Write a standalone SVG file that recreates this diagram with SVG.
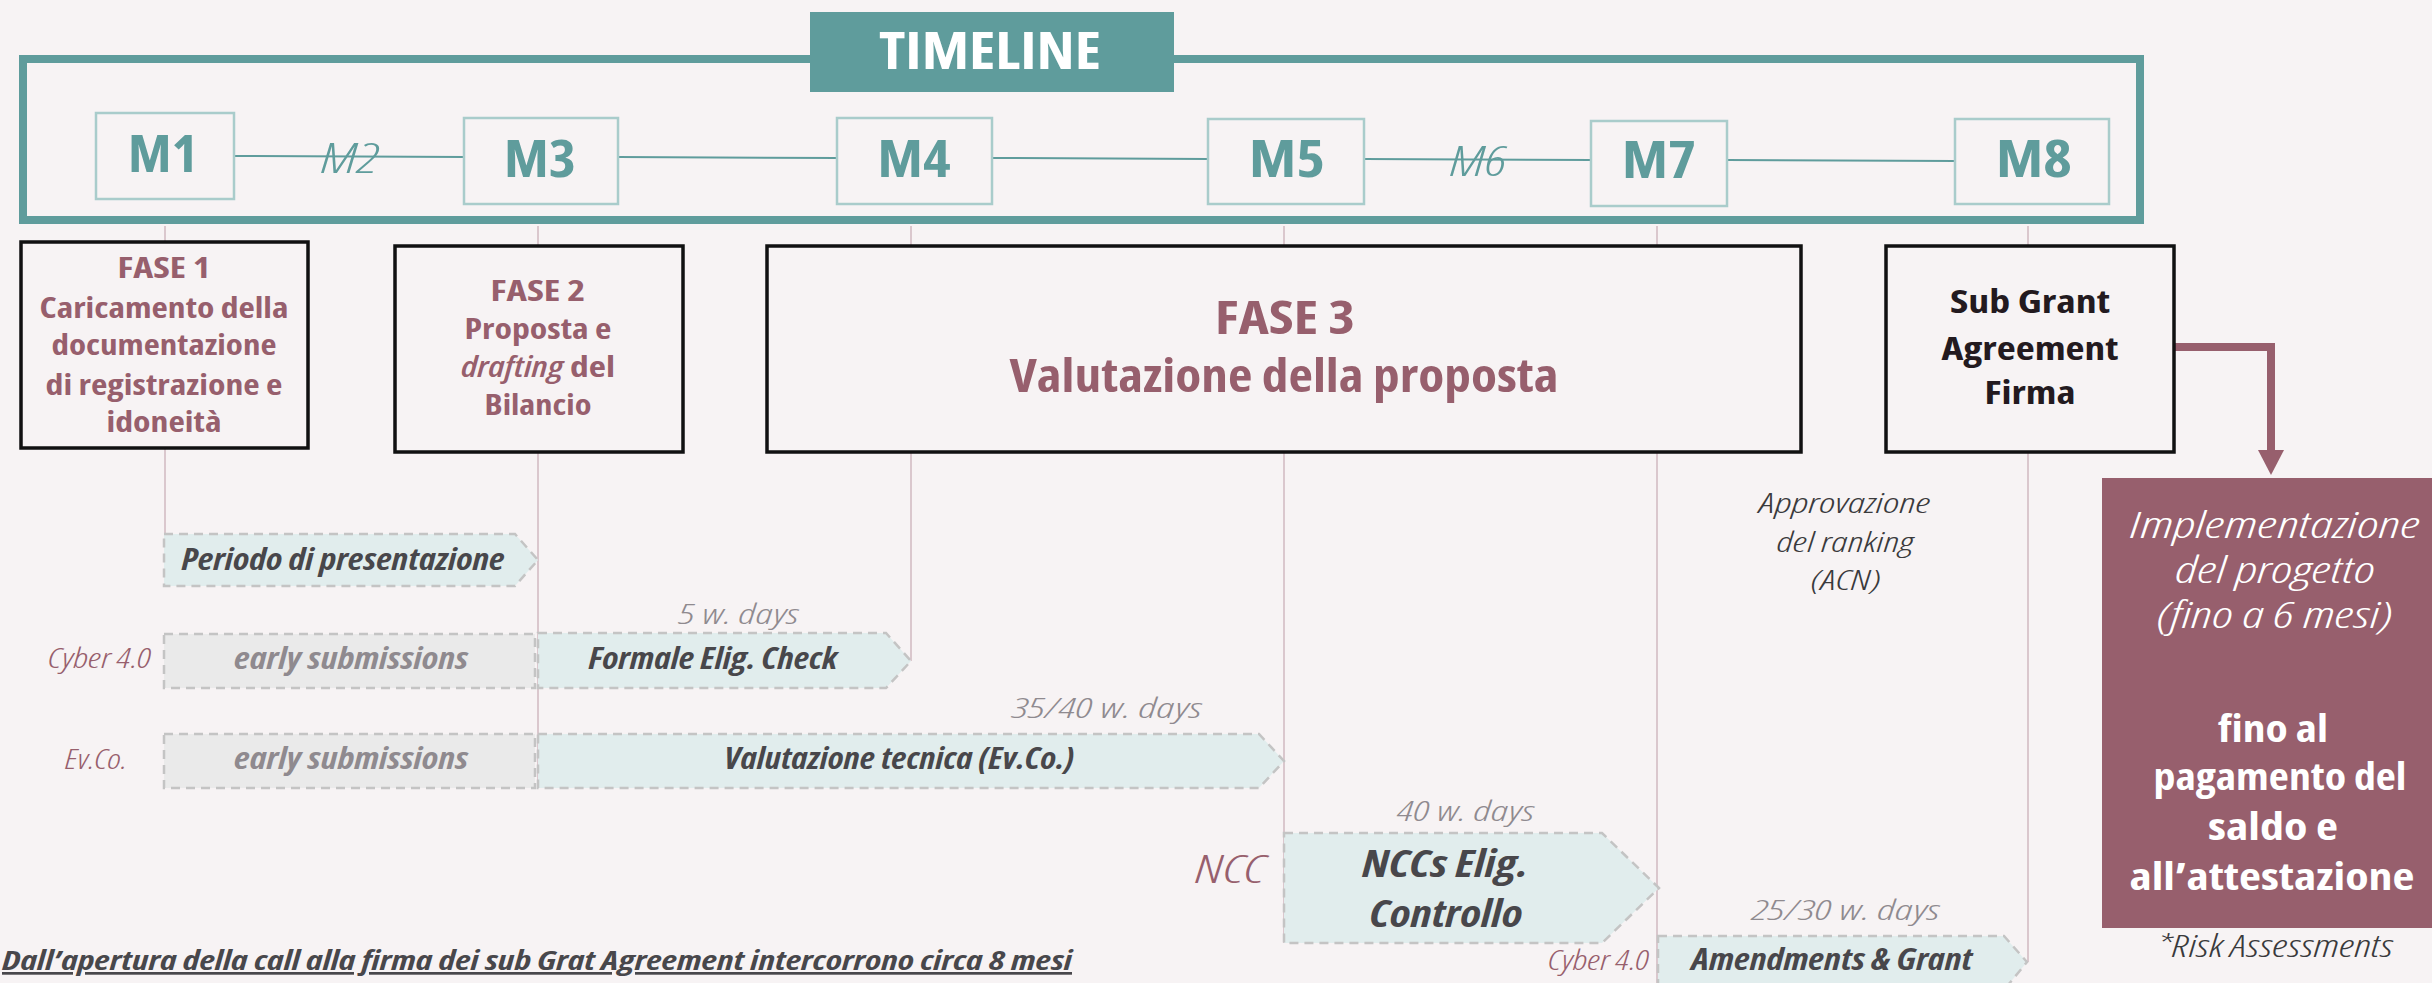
<svg xmlns="http://www.w3.org/2000/svg" width="2432" height="983" viewBox="0 0 2432 983">
<defs>
<style>
text{font-family:"Open Sans","Liberation Sans",sans-serif;font-stretch:condensed}
.c{text-anchor:middle}
.r{text-anchor:end}
.mbox{fill:none;stroke:#A9CCCB;stroke-width:2.5}
.mt{font-weight:700;font-size:52px;fill:#5F9C9C}
.mi{font-weight:300;font-style:italic;font-size:42px;fill:#5F9C9C}
.ml{stroke:#5F9C9C;stroke-width:2;fill:none}
.vl{stroke:#D0B8C0;stroke-width:1.5;fill:none}
.fase{fill:#F7F3F4;stroke:#111;stroke-width:3.5}
.ft{font-weight:700;font-size:29px;fill:#975F6D}
.ft3{font-weight:700;font-size:46px;fill:#975F6D}
.sg{font-weight:700;font-size:32px;fill:#231A1F}
.arr{fill:#E1EDED;stroke:#C4C4C4;stroke-width:2.5;stroke-dasharray:9 6}
.early{fill:#EAEAEA;stroke:#C4C4C4;stroke-width:2.5;stroke-dasharray:9 6}
.at{font-weight:700;font-style:italic;font-size:30px;fill:#48474B}
.atb{font-weight:700;font-style:italic;font-size:38px;fill:#48474B}
.et{font-weight:700;font-style:italic;font-size:30px;fill:#8F8A8F}
.lab{font-weight:300;font-style:italic;font-size:28px;fill:#975F6D}
.labb{font-weight:300;font-style:italic;font-size:39px;fill:#975F6D}
.days{font-weight:300;font-style:italic;font-size:28px;fill:#8F8A8F}
.note{font-weight:300;font-style:italic;font-size:28px;fill:#3A3A3C}
.risk{font-weight:300;font-style:italic;font-size:32px;fill:#3A3A3C}
.imp{font-weight:300;font-style:italic;font-size:36px;fill:#FFFFFF}
.impb{font-weight:700;font-size:38px;fill:#FFFFFF}
.foot{font-weight:700;font-style:italic;font-size:27px;fill:#48474B;text-decoration:underline}
.tl{font-weight:700;font-size:52px;fill:#FFFFFF}
</style>
</defs>
<rect width="2432" height="983" fill="#F7F3F4"/>

<g id="connectors">
<line class="vl" x1="165" y1="226" x2="165" y2="534"/>
<line class="vl" x1="538" y1="226" x2="538" y2="788"/>
<line class="vl" x1="911" y1="226" x2="911" y2="661"/>
<line class="vl" x1="1284" y1="226" x2="1284" y2="943"/>
<line class="vl" x1="1657" y1="226" x2="1657" y2="983"/>
<line class="vl" x1="2028" y1="226" x2="2028" y2="962"/>
<line class="ml" x1="234" y1="156" x2="464" y2="157"/>
<line class="ml" x1="618" y1="157" x2="837" y2="158"/>
<line class="ml" x1="992" y1="158" x2="1208" y2="159"/>
<line class="ml" x1="1364" y1="159" x2="1591" y2="160"/>
<line class="ml" x1="1727" y1="160" x2="1955" y2="161"/>
<path d="M2174,347 H2271 V452" fill="none" stroke="#975F6D" stroke-width="8"/>
<polygon points="2258,450 2284,450 2271,475" fill="#975F6D"/>
</g>

<g id="timeline">
<rect x="23" y="59" width="2117" height="161" fill="none" stroke="#5F9C9C" stroke-width="8"/>
<rect x="810" y="12" width="364" height="80" fill="#5F9C9C"/>
<text class="tl c" x="990" y="69" textLength="222" lengthAdjust="spacingAndGlyphs">TIMELINE</text>
</g>

<g id="m1"><rect class="mbox" x="96" y="113" width="138" height="86"/><text class="mt c" x="163" y="172" textLength="70" lengthAdjust="spacingAndGlyphs">M1</text></g>
<g id="m2"><text class="mi c" x="350" y="173" textLength="58" lengthAdjust="spacingAndGlyphs">M2</text></g>
<g id="m3"><rect class="mbox" x="464" y="118" width="154" height="86"/><text class="mt c" x="540" y="177" textLength="72" lengthAdjust="spacingAndGlyphs">M3</text></g>
<g id="m4"><rect class="mbox" x="837" y="118" width="155" height="86"/><text class="mt c" x="914" y="177" textLength="73" lengthAdjust="spacingAndGlyphs">M4</text></g>
<g id="m5"><rect class="mbox" x="1208" y="119" width="156" height="85"/><text class="mt c" x="1287" y="177" textLength="76" lengthAdjust="spacingAndGlyphs">M5</text></g>
<g id="m6"><text class="mi c" x="1478" y="176" textLength="56" lengthAdjust="spacingAndGlyphs">M6</text></g>
<g id="m7"><rect class="mbox" x="1591" y="121" width="136" height="85"/><text class="mt c" x="1659" y="178" textLength="74" lengthAdjust="spacingAndGlyphs">M7</text></g>
<g id="m8"><rect class="mbox" x="1955" y="119" width="154" height="85"/><text class="mt c" x="2034" y="177" textLength="76" lengthAdjust="spacingAndGlyphs">M8</text></g>

<g id="fase1">
<rect class="fase" x="21" y="242" width="287" height="206"/>
<text class="ft c" x="164" y="278" textLength="93" lengthAdjust="spacingAndGlyphs">FASE 1</text>
<text class="ft c" x="164" y="318" textLength="249" lengthAdjust="spacingAndGlyphs">Caricamento della</text>
<text class="ft c" x="164" y="355" textLength="225" lengthAdjust="spacingAndGlyphs">documentazione</text>
<text class="ft c" x="164" y="395" textLength="237" lengthAdjust="spacingAndGlyphs">di registrazione e</text>
<text class="ft c" x="164" y="432" textLength="115" lengthAdjust="spacingAndGlyphs">idoneità</text>
</g>

<g id="fase2">
<rect class="fase" x="395" y="246" width="288" height="206"/>
<text class="ft c" x="538" y="301" textLength="95" lengthAdjust="spacingAndGlyphs">FASE 2</text>
<text class="ft c" x="538" y="339" textLength="147" lengthAdjust="spacingAndGlyphs">Proposta e</text>
<text class="ft" x="461" y="377" textLength="154" lengthAdjust="spacingAndGlyphs"><tspan font-style="italic" font-weight="600">drafting</tspan> del</text>
<text class="ft c" x="538" y="415" textLength="107" lengthAdjust="spacingAndGlyphs">Bilancio</text>
</g>

<g id="fase3">
<rect class="fase" x="767" y="246" width="1034" height="206"/>
<text class="ft3 c" x="1285" y="334" textLength="140" lengthAdjust="spacingAndGlyphs">FASE 3</text>
<text class="ft3 c" x="1284" y="392" textLength="549" lengthAdjust="spacingAndGlyphs">Valutazione della proposta</text>
</g>

<g id="subgrant">
<rect class="fase" x="1886" y="246" width="288" height="206"/>
<text class="sg c" x="2030" y="313" textLength="160" lengthAdjust="spacingAndGlyphs">Sub Grant</text>
<text class="sg c" x="2030" y="360" textLength="177" lengthAdjust="spacingAndGlyphs">Agreement</text>
<text class="sg c" x="2030" y="404" textLength="91" lengthAdjust="spacingAndGlyphs">Firma</text>
</g>

<g id="implementazione">
<rect x="2102" y="478" width="330" height="450" fill="#975F6D"/>
<text class="imp c" x="2275" y="538" textLength="290" lengthAdjust="spacingAndGlyphs">Implementazione</text>
<text class="imp c" x="2275" y="583" textLength="200" lengthAdjust="spacingAndGlyphs">del progetto</text>
<text class="imp c" x="2275" y="628" textLength="236" lengthAdjust="spacingAndGlyphs">(fino a 6 mesi)</text>
<text class="impb c" x="2273" y="742" textLength="110" lengthAdjust="spacingAndGlyphs">fino al</text>
<text class="impb c" x="2280" y="790" textLength="253" lengthAdjust="spacingAndGlyphs">pagamento del</text>
<text class="impb c" x="2273" y="840" textLength="130" lengthAdjust="spacingAndGlyphs">saldo e</text>
<text class="impb c" x="2272" y="890" textLength="285" lengthAdjust="spacingAndGlyphs">all’attestazione</text>
</g>
<g id="risk"><text class="risk c" x="2275" y="957" textLength="236" lengthAdjust="spacingAndGlyphs">*Risk Assessments</text></g>

<g id="periodo">
<polygon class="arr" points="164,534 515,534 538,560 515,586 164,586"/>
<text class="at c" x="343" y="570" textLength="323" lengthAdjust="spacingAndGlyphs">Periodo di presentazione</text>
</g>

<g id="cyber-row">
<text class="lab r" x="151" y="668" textLength="103" lengthAdjust="spacingAndGlyphs">Cyber 4.0</text>
<rect class="early" x="164" y="634" width="371" height="54"/>
<text class="et c" x="351" y="669" textLength="234" lengthAdjust="spacingAndGlyphs">early submissions</text>
<polygon class="arr" points="538,633 886,633 911,661 886,688 538,688"/>
<text class="at c" x="713" y="669" textLength="249" lengthAdjust="spacingAndGlyphs">Formale Elig. Check</text>
<text class="days c" x="739" y="624" textLength="120" lengthAdjust="spacingAndGlyphs">5 w. days</text>
</g>

<g id="evco-row">
<text class="lab r" x="127" y="769" textLength="62" lengthAdjust="spacingAndGlyphs">Ev.Co.</text>
<rect class="early" x="164" y="734" width="371" height="54"/>
<text class="et c" x="351" y="769" textLength="234" lengthAdjust="spacingAndGlyphs">early submissions</text>
<polygon class="arr" points="538,734 1259,734 1284,761 1259,788 538,788"/>
<text class="at c" x="899" y="769" textLength="350" lengthAdjust="spacingAndGlyphs">Valutazione tecnica (Ev.Co.)</text>
<text class="days c" x="1107" y="718" textLength="190" lengthAdjust="spacingAndGlyphs">35/40 w. days</text>
</g>

<g id="ncc-row">
<text class="labb r" x="1265" y="883" textLength="70" lengthAdjust="spacingAndGlyphs">NCC</text>
<polygon class="arr" points="1284,833 1602,833 1659,888 1602,943 1284,943"/>
<text class="atb c" x="1445" y="877" textLength="166" lengthAdjust="spacingAndGlyphs">NCCs Elig.</text>
<text class="atb c" x="1446" y="927" textLength="153" lengthAdjust="spacingAndGlyphs">Controllo</text>
<text class="days c" x="1466" y="821" textLength="137" lengthAdjust="spacingAndGlyphs">40 w. days</text>
</g>

<g id="amend-row">
<text class="lab r" x="1649" y="970" textLength="101" lengthAdjust="spacingAndGlyphs">Cyber 4.0</text>
<polygon class="arr" points="1658,936 2004,936 2027,962 2004,990 1658,990"/>
<text class="at c" x="1832" y="970" textLength="281" lengthAdjust="spacingAndGlyphs">Amendments &amp; Grant</text>
<text class="days c" x="1846" y="920" textLength="188" lengthAdjust="spacingAndGlyphs">25/30 w. days</text>
</g>

<g id="approvazione">
<text class="note c" x="1845" y="513" textLength="171" lengthAdjust="spacingAndGlyphs">Approvazione</text>
<text class="note c" x="1845" y="552" textLength="137" lengthAdjust="spacingAndGlyphs">del ranking</text>
<text class="note c" x="1846" y="590" textLength="70" lengthAdjust="spacingAndGlyphs">(ACN)</text>
</g>

<g id="footer">
<text class="foot" x="2" y="970" textLength="1070" lengthAdjust="spacingAndGlyphs">Dall’apertura della call alla firma dei sub Grat Agreement intercorrono circa 8 mesi</text>
</g>
</svg>
